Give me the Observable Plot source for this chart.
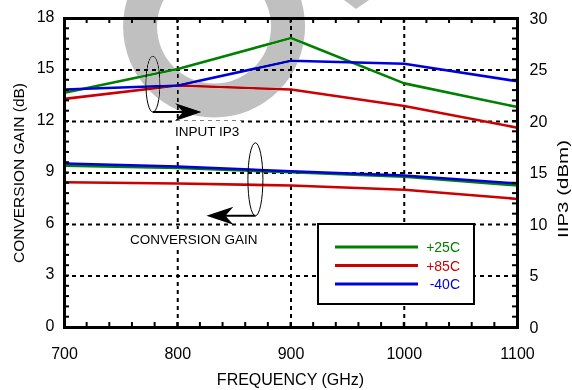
<!DOCTYPE html>
<html><head><meta charset="utf-8">
<script src="https://cdn.jsdelivr.net/npm/d3@7"></script>
<script src="https://cdn.jsdelivr.net/npm/@observablehq/plot@0.6"></script>
<style>
body{margin:0;background:#fff;}
#chart{width:572px;height:390px;}
</style>
</head><body><div id="chart"></div>
<script>
// ---- data ----
const freq = [700, 800, 900, 1000, 1100];
const temps = ["+25C", "+85C", "-40C"];
const colors = ["#008000", "#cc0000", "#0000dd"];
const gain25 = [9.43, 9.30, 9.04, 8.79, 8.27];
const gain85 = [8.46, 8.39, 8.27, 8.02, 7.49];
const gainM40 = [9.55, 9.38, 9.10, 8.85, 8.39];
const ip3_25 = [22.8, 25.1, 28.1, 23.7, 21.4];
const ip3_85 = [22.2, 23.5, 23.1, 21.5, 19.4];
const ip3_M40 = [23.1, 23.5, 25.9, 25.6, 23.9];
const xTicks = [700, 800, 900, 1000, 1100];
const gainTicks = [0, 3, 6, 9, 12, 15, 18];
const ip3Ticks = [0, 5, 10, 15, 20, 25, 30];

const gainMax = 18, ip3Max = 30;
const k = gainMax / ip3Max; // IP3 -> gain-axis units
const gainSeries = [gain25, gain85, gainM40];
const ip3Series = [ip3_25, ip3_85, ip3_M40];
const rows = [];
temps.forEach((t, s) => {
  freq.forEach((f, i) => rows.push({freq: f, v: gainSeries[s][i], series: t + " gain", color: colors[s]}));
  freq.forEach((f, i) => rows.push({freq: f, v: ip3Series[s][i] * k, series: t + " ip3", color: colors[s]}));
});

const grid = {stroke: "black", strokeOpacity: 1, strokeWidth: 2, strokeDasharray: "4,4"};
const plot = Plot.plot({
  width: 572, height: 390,
  marginLeft: 64, marginRight: 55, marginTop: 18, marginBottom: 63,
  x: {domain: [700, 1100]},
  y: {domain: [0, gainMax]},
  style: {fontFamily: "Liberation Sans, Arial, sans-serif", fontSize: "16px", color: "black", background: "white"},
  marks: [
    Plot.gridX([800, 900, 1000], grid),
    Plot.gridY([3, 6, 9, 12, 15], grid),
    Plot.line(rows, {x: "freq", y: "v", z: "series", stroke: "color", strokeWidth: 2.6}),
    Plot.axisX(xTicks, {tickSize: 0, tickPadding: 20, label: null, fill: "black", tickFormat: d => String(d)}),
    Plot.axisY(gainTicks, {anchor: "left", tickSize: 0, tickPadding: 10, label: null, dy: -2, fill: "black"}),
    Plot.axisY(gainTicks, {anchor: "right", tickSize: 0, tickPadding: 12, label: null, fill: "black",
      tickFormat: d => String(ip3Ticks[gainTicks.indexOf(d)])}),
    Plot.frame({stroke: "black", strokeWidth: 3})
  ]
});
document.getElementById("chart").appendChild(plot);

const X = plot.scale("x").apply, Y = plot.scale("y").apply;
const svg = d3.select(plot);
const x0 = X(700), x1 = X(1100), y0 = Y(0), y1 = Y(gainMax);

// text annotations with white knock-out boxes
const ann = svg.append("g").attr("text-anchor", "start");
function label(txt, x, y) {
  const g = ann.append("g");
  const r = g.append("rect").attr("fill", "white");
  const t = g.append("text").attr("x", x).attr("y", y).attr("text-anchor", "start")
    .attr("font-size", 13.5).attr("fill", "black").text(txt);
  const b = t.node().getBBox();
  r.attr("x", b.x - 2).attr("y", b.y - 3).attr("width", b.width + 4).attr("height", b.height + 6);
}
label("INPUT IP3", 175, 136);
label("CONVERSION GAIN", 130, 244);

// ellipses + arrows
function bracket(cxv, cyv, rx, ry, dir) {
  const cx = X(cxv), cy = Y(cyv);
  ann.append("ellipse").attr("cx", cx).attr("cy", cy).attr("rx", rx).attr("ry", ry)
    .attr("fill", "none").attr("stroke", "black").attr("stroke-width", 1);
  const by = cy + ry;
  const tip = cx + dir * 49;
  ann.append("line").attr("x1", cx).attr("y1", by).attr("x2", tip - dir * 12).attr("y2", by)
    .attr("stroke", "black").attr("stroke-width", 2);
  ann.append("path").attr("fill", "black")
    .attr("d", `M${tip},${by} L${tip - dir * 27},${by - 9} L${tip - dir * 19},${by} L${tip - dir * 27},${by + 9} Z`);
}
bracket(778.5, 14.15, 7, 28, 1);
bracket(869, 8.6, 7.5, 36.5, -1);

// minor ticks (inward)
const ticks = svg.append("g").attr("stroke", "black").attr("stroke-width", 2);
for (let f = 720; f < 1100; f += 20) {
  ticks.append("line").attr("x1", X(f)).attr("x2", X(f)).attr("y1", y0).attr("y2", y0 - 5);
  ticks.append("line").attr("x1", X(f)).attr("x2", X(f)).attr("y1", y1).attr("y2", y1 + 5);
}
for (let i = 1; i < 30; i++) {
  const yy = Y(i * k);
  ticks.append("line").attr("x1", x0).attr("x2", x0 + 5).attr("y1", yy).attr("y2", yy);
  ticks.append("line").attr("x1", x1).attr("x2", x1 - 5).attr("y1", yy).attr("y2", yy);
}

// legend
const lg = svg.append("g");
lg.append("rect").attr("x", 318).attr("y", 224).attr("width", 156).attr("height", 80)
  .attr("fill", "white").attr("stroke", "black").attr("stroke-width", 2);
temps.forEach((t, i) => {
  const yy = 247 + i * 18.5;
  lg.append("line").attr("x1", 335).attr("x2", 418).attr("y1", yy).attr("y2", yy)
    .attr("stroke", colors[i]).attr("stroke-width", 3);
  lg.append("text").attr("x", 460).attr("y", yy + 5).attr("text-anchor", "end")
    .attr("font-size", 14).attr("fill", colors[i]).text(t);
});

// axis titles
svg.append("text").attr("transform", `translate(23.5,173) rotate(-90)`)
  .attr("text-anchor", "middle").attr("font-size", 15.5).attr("fill", "black").text("CONVERSION GAIN (dB)");
svg.append("text").attr("transform", `translate(568,189) rotate(-90)`)
  .attr("text-anchor", "middle").attr("font-size", 15).attr("fill", "black")
  .attr("textLength", 98).attr("lengthAdjust", "spacingAndGlyphs").text("IIP3 (dBm)");
svg.append("text").attr("x", (x0 + x1) / 2).attr("y", 385)
  .attr("text-anchor", "middle").attr("font-size", 16).attr("fill", "black").text("FREQUENCY (GHz)");

// watermark on top, blended with "darken" so everything darker shows through
{
  const cx = X(832.5), cy = Y(17.5), ro = 91, ri = 57;
  const wm = svg.append("g").style("mix-blend-mode", "darken").attr("pointer-events", "none");
  const ring = `M${cx - ro},${cy} A${ro},${ro} 0 1,0 ${cx + ro},${cy} A${ro},${ro} 0 1,0 ${cx - ro},${cy} Z ` +
               `M${cx - ri},${cy} A${ri},${ri} 0 1,1 ${cx + ri},${cy} A${ri},${ri} 0 1,1 ${cx - ri},${cy} Z`;
  wm.append("path").attr("d", ring).attr("fill", "#c0c0c0").attr("fill-rule", "evenodd");
  wm.append("path").attr("d", "M344,0 L369,0 L356,9 Z").attr("fill", "#c0c0c0");
}
</script>
</body></html>
